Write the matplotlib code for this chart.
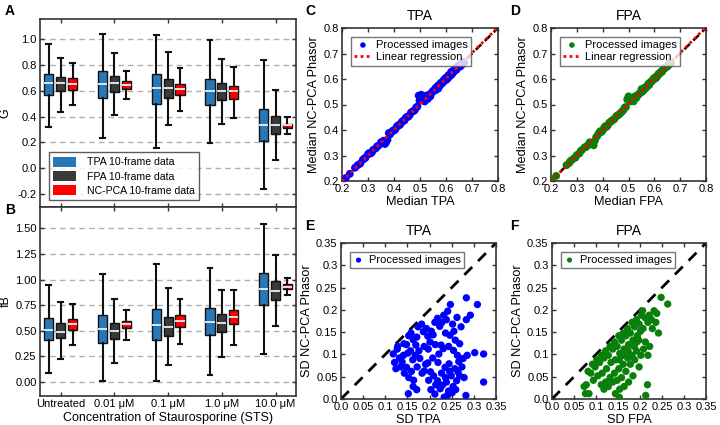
import numpy as np
import matplotlib
matplotlib.use("Agg")
import matplotlib.pyplot as plt
from matplotlib.patches import Patch

plt.rcParams['font.family'] = ['Liberation Sans', 'DejaVu Sans']
plt.rcParams['axes.linewidth'] = 1.2

# ---------------- data ----------------
groups = ["Untreated", "0.01 \u03bcM", "0.1 \u03bcM", "1.0 \u03bcM", "10.0 \u03bcM"]
series = ["TPA 10-frame data", "FPA 10-frame data", "NC-PCA 10-frame data"]
colors = ["#2878b8", "#3a3a3a", "#ff0000"]

# [whislo, q1, med, q3, whishi] for each group
G_tpa = [[0.323, 0.564, 0.656, 0.728, 0.964],
         [0.233, 0.544, 0.654, 0.754, 1.036],
         [0.159, 0.500, 0.623, 0.728, 1.030],
         [0.192, 0.490, 0.597, 0.692, 0.990],
         [-0.159, 0.210, 0.338, 0.459, 0.836]]
G_fpa = [[0.436, 0.595, 0.659, 0.703, 0.856],
         [0.415, 0.590, 0.656, 0.713, 0.890],
         [0.333, 0.544, 0.623, 0.690, 0.903],
         [0.346, 0.531, 0.600, 0.656, 0.844],
         [0.067, 0.267, 0.338, 0.405, 0.605]]
G_nc = [[0.490, 0.608, 0.654, 0.695, 0.813],
        [0.536, 0.615, 0.644, 0.674, 0.749],
        [0.444, 0.567, 0.610, 0.654, 0.779],
        [0.390, 0.536, 0.595, 0.638, 0.787],
        [0.267, 0.313, 0.331, 0.346, 0.395]]

fB_tpa = [[0.088, 0.409, 0.504, 0.626, 0.947],
          [0.003, 0.380, 0.511, 0.655, 1.058],
          [0.003, 0.409, 0.554, 0.707, 1.153],
          [0.062, 0.455, 0.583, 0.721, 1.117],
          [0.269, 0.750, 0.904, 1.065, 1.543]]
fB_fpa = [[0.226, 0.432, 0.488, 0.573, 0.783],
          [0.187, 0.419, 0.498, 0.576, 0.809],
          [0.167, 0.445, 0.537, 0.632, 0.914],
          [0.239, 0.488, 0.570, 0.658, 0.901],
          [0.544, 0.802, 0.891, 0.983, 1.241]]
fB_nc = [[0.357, 0.508, 0.560, 0.613, 0.760],
         [0.406, 0.521, 0.560, 0.593, 0.701],
         [0.373, 0.534, 0.593, 0.652, 0.812],
         [0.360, 0.563, 0.635, 0.701, 0.901],
         [0.848, 0.907, 0.930, 0.953, 1.015]]

# Median scatter (C: TPA, D: FPA)
C_x = [0.215, 0.23, 0.25, 0.26, 0.27, 0.28, 0.29, 0.30, 0.305, 0.31, 0.32, 0.33, 0.34, 0.35,
       0.36, 0.365, 0.37, 0.375, 0.38, 0.39, 0.40, 0.41, 0.42, 0.43, 0.44, 0.45, 0.46, 0.47,
       0.48, 0.49, 0.495, 0.50, 0.505, 0.51, 0.515, 0.52, 0.525, 0.53, 0.535, 0.54, 0.545,
       0.55, 0.555, 0.56, 0.565, 0.57, 0.575, 0.58, 0.585, 0.59, 0.595, 0.60, 0.605, 0.61,
       0.615, 0.62, 0.625, 0.63, 0.635, 0.64, 0.645, 0.65, 0.655, 0.66, 0.665, 0.67,
       0.52, 0.53, 0.54, 0.56, 0.58, 0.60, 0.62, 0.64, 0.66, 0.57, 0.59, 0.61, 0.63,
       0.285, 0.315, 0.335, 0.355, 0.385, 0.395, 0.405, 0.415, 0.425, 0.435, 0.445, 0.455,
       0.465, 0.475, 0.485, 0.498, 0.508, 0.518, 0.528, 0.548, 0.568, 0.588, 0.608, 0.628,
       0.648, 0.652, 0.658, 0.662]
C_y = [0.212, 0.228, 0.252, 0.262, 0.268, 0.283, 0.291, 0.305, 0.310, 0.308, 0.322, 0.328,
       0.338, 0.352, 0.358, 0.345, 0.352, 0.362, 0.388, 0.392, 0.398, 0.412, 0.418, 0.432,
       0.437, 0.452, 0.458, 0.472, 0.478, 0.492, 0.535, 0.528, 0.538, 0.522, 0.532, 0.525,
       0.535, 0.528, 0.538, 0.540, 0.546, 0.553, 0.557, 0.565, 0.566, 0.575, 0.572, 0.585,
       0.583, 0.594, 0.600, 0.605, 0.600, 0.615, 0.618, 0.628, 0.622, 0.635, 0.640, 0.645,
       0.648, 0.655, 0.650, 0.662, 0.668, 0.665,
       0.515, 0.522, 0.532, 0.556, 0.578, 0.596, 0.615, 0.636, 0.655, 0.562, 0.588, 0.606, 0.628,
       0.288, 0.312, 0.336, 0.350, 0.383, 0.397, 0.402, 0.418, 0.423, 0.436, 0.448, 0.452,
       0.468, 0.474, 0.488, 0.515, 0.520, 0.512, 0.522, 0.550, 0.570, 0.590, 0.612, 0.632,
       0.652, 0.648, 0.660, 0.658]
D_x = [0.205, 0.22, 0.26, 0.27, 0.28, 0.29, 0.30, 0.31, 0.32, 0.33, 0.34, 0.35, 0.36, 0.365,
       0.37, 0.375, 0.38, 0.39, 0.40, 0.41, 0.42, 0.43, 0.44, 0.45, 0.46, 0.47, 0.48, 0.49,
       0.495, 0.50, 0.505, 0.51, 0.515, 0.52, 0.525, 0.53, 0.535, 0.54, 0.545, 0.55, 0.555,
       0.56, 0.565, 0.57, 0.575, 0.58, 0.585, 0.59, 0.595, 0.60, 0.605, 0.61, 0.615, 0.62,
       0.625, 0.63, 0.635, 0.64, 0.645, 0.65, 0.655, 0.66, 0.665,
       0.53, 0.55, 0.57, 0.59, 0.61, 0.63, 0.65, 0.52, 0.58,
       0.275, 0.295, 0.315, 0.335, 0.345, 0.385, 0.395, 0.405, 0.415, 0.425, 0.435, 0.445,
       0.455, 0.465, 0.475, 0.485, 0.508, 0.518, 0.538, 0.558, 0.578, 0.598, 0.618, 0.638,
       0.652, 0.658]
D_y = [0.205, 0.220, 0.262, 0.270, 0.282, 0.290, 0.302, 0.308, 0.322, 0.332, 0.338, 0.352,
       0.350, 0.340, 0.358, 0.372, 0.378, 0.395, 0.398, 0.415, 0.418, 0.432, 0.440, 0.450,
       0.458, 0.468, 0.478, 0.490, 0.520, 0.532, 0.528, 0.518, 0.526, 0.522, 0.532, 0.530,
       0.535, 0.540, 0.545, 0.560, 0.552, 0.565, 0.562, 0.570, 0.578, 0.580, 0.588, 0.590,
       0.598, 0.605, 0.602, 0.612, 0.618, 0.620, 0.628, 0.632, 0.638, 0.642, 0.646, 0.650,
       0.655, 0.660, 0.662,
       0.525, 0.548, 0.568, 0.592, 0.608, 0.628, 0.652, 0.512, 0.576,
       0.278, 0.292, 0.318, 0.333, 0.342, 0.388, 0.392, 0.408, 0.412, 0.428, 0.436, 0.442,
       0.456, 0.462, 0.472, 0.488, 0.512, 0.520, 0.540, 0.556, 0.582, 0.600, 0.622, 0.640,
       0.650, 0.662]

# SD scatter (E: TPA, F: FPA)
E_x = [0.128, 0.142, 0.153, 0.158, 0.163, 0.171, 0.174, 0.182, 0.186, 0.193, 0.196, 0.201,
       0.204, 0.212, 0.208, 0.218, 0.223, 0.226, 0.232, 0.228, 0.236, 0.241, 0.238, 0.246,
       0.252, 0.247, 0.255, 0.262, 0.258, 0.271, 0.268, 0.283, 0.292, 0.283, 0.308, 0.322,
       0.285, 0.302, 0.188, 0.176, 0.213, 0.197, 0.169, 0.157, 0.243, 0.231, 0.254, 0.263,
       0.221, 0.207,
       0.118, 0.121, 0.124, 0.132, 0.135, 0.141, 0.138, 0.151, 0.148, 0.162, 0.159, 0.172,
       0.168, 0.178, 0.183, 0.191, 0.188, 0.202, 0.143, 0.153, 0.127, 0.148, 0.164,
       0.152, 0.163, 0.171, 0.198, 0.203, 0.209, 0.214, 0.212, 0.218, 0.224, 0.227, 0.229,
       0.233, 0.236, 0.238, 0.243, 0.245, 0.241, 0.249, 0.253, 0.257, 0.261, 0.264, 0.259,
       0.268, 0.273, 0.278, 0.282, 0.322, 0.251, 0.235, 0.219, 0.244, 0.266, 0.196, 0.276]
E_y = [0.118, 0.124, 0.142, 0.148, 0.133, 0.139, 0.162, 0.168, 0.151, 0.158, 0.141, 0.128,
       0.152, 0.172, 0.144, 0.181, 0.163, 0.121, 0.188, 0.172, 0.148, 0.197, 0.178, 0.143,
       0.168, 0.212, 0.152, 0.183, 0.132, 0.162, 0.124, 0.178, 0.188, 0.227, 0.212, 0.101,
       0.098, 0.104, 0.118, 0.108, 0.122, 0.112, 0.121, 0.108, 0.118, 0.113, 0.109, 0.098,
       0.101, 0.092,
       0.101, 0.082, 0.068, 0.092, 0.072, 0.098, 0.083, 0.103, 0.071, 0.088, 0.062, 0.072,
       0.098, 0.091, 0.058, 0.078, 0.063, 0.061, 0.058, 0.048, 0.112, 0.122, 0.042,
       0.012, 0.028, 0.021, 0.042, 0.021, 0.052, 0.032, 0.011, 0.041, 0.023, 0.058, 0.031,
       0.004, 0.048, 0.038, 0.018, 0.062, 0.009, 0.052, 0.028, 0.068, 0.041, 0.061, 0.021,
       0.052, 0.072, 0.048, 0.008, 0.038, 0.014, 0.071, 0.082, 0.079, 0.084, 0.081, 0.091]
F_x = [0.248, 0.263, 0.238, 0.232, 0.226, 0.221, 0.218, 0.212, 0.207, 0.203, 0.198, 0.201,
       0.192, 0.188, 0.194, 0.182, 0.178, 0.184, 0.172, 0.168, 0.174, 0.162, 0.158, 0.164,
       0.152, 0.148, 0.154, 0.142, 0.138, 0.144, 0.132, 0.128, 0.134, 0.122, 0.118, 0.124,
       0.112, 0.108, 0.114, 0.102, 0.098, 0.104, 0.092, 0.088, 0.094, 0.082, 0.078, 0.084,
       0.073, 0.076,
       0.212, 0.208, 0.202, 0.198, 0.192, 0.188, 0.182, 0.178, 0.184, 0.172, 0.168, 0.174,
       0.162, 0.158, 0.164, 0.152, 0.148, 0.154, 0.142, 0.138, 0.144, 0.132, 0.128, 0.122,
       0.118, 0.112, 0.218, 0.222, 0.217, 0.213, 0.153, 0.228, 0.236, 0.242, 0.193, 0.183,
       0.173, 0.163, 0.153, 0.206, 0.197, 0.187]
F_y = [0.228, 0.213, 0.192, 0.198, 0.178, 0.188, 0.172, 0.182, 0.158, 0.188, 0.168, 0.152,
       0.178, 0.162, 0.142, 0.172, 0.148, 0.132, 0.158, 0.142, 0.122, 0.148, 0.132, 0.112,
       0.142, 0.118, 0.102, 0.128, 0.112, 0.088, 0.118, 0.098, 0.082, 0.108, 0.092, 0.068,
       0.098, 0.082, 0.058, 0.088, 0.072, 0.052, 0.078, 0.058, 0.042, 0.062, 0.032, 0.012,
       0.028, 0.012,
       0.128, 0.112, 0.098, 0.072, 0.108, 0.088, 0.098, 0.078, 0.052, 0.092, 0.062, 0.038,
       0.078, 0.048, 0.028, 0.068, 0.042, 0.022, 0.058, 0.038, 0.012, 0.048, 0.028, 0.038,
       0.022, 0.032, 0.098, 0.118, 0.032, 0.008, 0.004, 0.158, 0.172, 0.148, 0.128, 0.122,
       0.108, 0.098, 0.088, 0.198, 0.132, 0.118]

# ---------------- figure ----------------
W, H = 720, 425
fig = plt.figure(figsize=(W / 100, H / 100), dpi=100)


def rect(l, t, r, b):
    return [l / W, 1 - b / H, (r - l) / W, (b - t) / H]


def style_ax(ax, size=8):
    for s in ax.spines.values():
        s.set_color("#333333")
    ax.tick_params(direction="in", top=True, right=True, length=3, width=1,
                   color="#333333", labelsize=size, pad=2.5)


def make_stats(arr):
    return [dict(whislo=a[0], q1=a[1], med=a[2], q3=a[3], whishi=a[4], fliers=[])
            for a in arr]


def boxpanel(ax, data_list, ylim, yticks, yfmt):
    pos = np.arange(1, len(groups) + 1)
    offsets = [-0.22, 0.0, 0.22]
    for i, (d, c) in enumerate(zip(data_list, colors)):
        ax.bxp(make_stats(d), positions=pos + offsets[i], widths=0.17,
               patch_artist=True, showfliers=False,
               boxprops=dict(facecolor=c, edgecolor="#111111", linewidth=1.0),
               medianprops=dict(color="#e8f0f8", linewidth=1.3),
               whiskerprops=dict(color="#111111", linewidth=1.5),
               capprops=dict(color="#111111", linewidth=1.5),
               capwidths=0.09, manage_ticks=False, zorder=3)
    ax.set_xlim(0.615, 5.38)
    ax.set_ylim(*ylim)
    ax.set_yticks(yticks)
    ax.set_yticklabels([yfmt.format(v) for v in yticks])
    ax.set_xticks(pos)
    for y in yticks:
        ax.axhline(y, color="#b0b0b0", lw=1.0, ls=(0, (4, 3)), zorder=1)
    style_ax(ax)


axA = fig.add_axes(rect(40, 19, 296, 207))
boxpanel(axA, [G_tpa, G_fpa, G_nc], (-0.30, 1.155),
         [-0.2, 0.0, 0.2, 0.4, 0.6, 0.8, 1.0], "{:.1f}")
axA.set_xticklabels([])
axA.set_ylabel("G", fontsize=9, labelpad=4)
handles = [Patch(facecolor=c, edgecolor="none") for c in colors]
axA.legend(handles, series, loc="lower left", bbox_to_anchor=(0.025, 0.025),
           fontsize=7.6, frameon=True, fancybox=False, edgecolor="#333333",
           handlelength=2.2, handleheight=1.1, borderpad=0.4, labelspacing=0.35,
           handletextpad=1.0, borderaxespad=0.2)

axB = fig.add_axes(rect(40, 207, 296, 396))
boxpanel(axB, [fB_tpa, fB_fpa, fB_nc], (-0.14, 1.71),
         [0.0, 0.25, 0.5, 0.75, 1.0, 1.25, 1.5], "{:.2f}")
axB.set_xticklabels(groups, fontsize=8)
axB.set_ylabel("fB", fontsize=9, labelpad=2)
axB.set_xlabel("Concentration of Staurosporine (STS)", fontsize=9, labelpad=2)


def median_panel(ax, x, y, col, name):
    x = np.asarray(x)
    y = np.asarray(y)
    lim = (0.2, 0.8)
    ax.plot(lim, lim, color="black", ls=(0, (3, 2)), lw=1.8, zorder=2)
    ax.scatter(x, y, s=32, color=col, edgecolors="none", zorder=3,
               label="Processed images")
    k, b = np.polyfit(x, y, 1)
    xx = np.array(lim)
    ax.plot(xx, k * xx + b, color="red", ls=(0, (1, 1.2)), lw=2.0, zorder=4,
            label="Linear regression")
    ax.set_xlim(*lim)
    ax.set_ylim(*lim)
    t = np.round(np.arange(0.2, 0.81, 0.1), 1)
    ax.set_xticks(t)
    ax.set_yticks(t)
    ax.set_xticklabels([f"{v:.1f}" for v in t])
    ax.set_yticklabels([f"{v:.1f}" for v in t])
    style_ax(ax)
    ax.set_title(name, fontsize=10, pad=6)
    ax.set_xlabel(f"Median {name}", fontsize=9.2, labelpad=1)
    ax.set_ylabel("Median NC-PCA Phasor", fontsize=9.2, labelpad=2)
    ax.legend(loc="upper left", fontsize=8, frameon=True, fancybox=False,
              edgecolor="#555555", handlelength=1.6, borderpad=0.3,
              labelspacing=0.2, handletextpad=0.4, markerscale=0.7,
              bbox_to_anchor=(0.02, 0.98))


def sd_panel(ax, x, y, col, name):
    lim = (0.0, 0.35)
    ax.plot(lim, lim, color="black", ls=(0, (4, 3)), lw=2.0, zorder=2)
    ax.scatter(x, y, s=28, color=col, edgecolors="none", zorder=3,
               label="Processed images")
    ax.set_xlim(*lim)
    ax.set_ylim(*lim)
    t = [0.0, 0.05, 0.1, 0.15, 0.2, 0.25, 0.3, 0.35]
    lab = ["0.0", "0.05", "0.1", "0.15", "0.2", "0.25", "0.3", "0.35"]
    ax.set_xticks(t)
    ax.set_yticks(t)
    ax.set_xticklabels(lab)
    ax.set_yticklabels(lab)
    style_ax(ax)
    ax.set_title(name, fontsize=10, pad=6)
    ax.set_xlabel(f"SD {name}", fontsize=9.2, labelpad=1)
    ax.set_ylabel("SD NC-PCA Phasor", fontsize=9.2, labelpad=2)
    ax.legend(loc="upper left", fontsize=8, frameon=True, fancybox=False,
              edgecolor="#555555", handlelength=1.0, borderpad=0.3,
              handletextpad=0.4, markerscale=0.7, bbox_to_anchor=(0.02, 0.98))


axC = fig.add_axes(rect(342, 28, 498, 181))
median_panel(axC, C_x, C_y, "#0000ff", "TPA")
axD = fig.add_axes(rect(551, 28, 706, 181))
median_panel(axD, D_x, D_y, "#0a800a", "FPA")
axE = fig.add_axes(rect(341, 243, 496, 399))
sd_panel(axE, E_x, E_y, "#0000ff", "TPA")
axF = fig.add_axes(rect(552, 243, 706, 399))
sd_panel(axF, F_x, F_y, "#0a800a", "FPA")

for lab, x, y in [("A", 10, 11), ("B", 10, 210), ("C", 310, 11), ("D", 515, 11),
                  ("E", 310, 226), ("F", 514, 226)]:
    fig.text(x / W, 1 - y / H, lab, fontsize=10, fontweight="bold",
             ha="center", va="center")

fig.savefig("out.png", dpi=100)
